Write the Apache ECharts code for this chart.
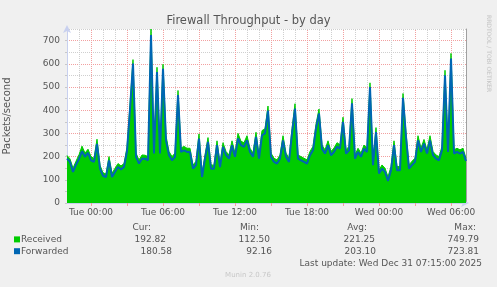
<!DOCTYPE html>
<html>
<head>
<meta charset="utf-8">
<script src="https://cdn.jsdelivr.net/npm/echarts@6/dist/echarts.min.js"></script>
<style>
html,body{margin:0;padding:0;background:#f0f0f0;}
#c{width:497px;height:287px;}
</style>
</head>
<body>
<div id="c"></div>
<script>
// Categories: 15-minute steps from Mon 22:00 to Wed 07:15
const dayNames = ['Mon', 'Tue', 'Wed'];
const categories = [];
function pad(n) { return (n < 10 ? '0' : '') + n; }
for (let i = 0; i < 134; i++) {
  const t = 22 * 60 + i * 15;
  const d = Math.floor(t / 1440), m = t % 1440;
  categories.push(dayNames[d] + ' ' + pad(Math.floor(m / 60)) + ':' + pad(m % 60));
}

const received = [
  205,190,150,180,208,245,215,232,200,192,
  275,163,130,125,200,128,150,170,160,170,
  240,420,618,215,185,207,206,200,750,230,
  585,230,598,290,222,200,215,485,237,244,
  236,236,163,180,298,128,207,282,164,163,
  268,171,260,222,207,268,215,300,266,260,
  290,236,215,305,207,312,320,418,215,193,
  186,207,290,215,193,320,428,207,200,193,
  186,222,244,340,405,250,229,268,222,237,
  260,251,370,229,244,450,207,236,215,250,
  236,518,180,325,142,164,150,113,157,268,
  157,157,472,303,164,180,193,290,236,274,
  229,290,222,207,200,244,572,236,645,229,
  236,229,236,193
];

const forwarded = [
  191,177,134,165,190,223,199,216,184,177,
  255,148,117,112,184,112,134,155,145,155,
  223,404,601,199,170,191,191,184,724,213,
  565,213,578,270,206,184,199,465,220,227,
  220,220,148,163,278,112,191,263,148,148,
  249,155,242,206,191,249,199,278,249,242,
  270,220,199,285,191,292,300,398,199,177,
  170,191,270,199,177,300,407,191,184,177,
  170,206,227,321,386,234,213,249,206,220,
  242,234,350,213,227,430,191,220,199,234,
  220,500,163,306,127,148,134,95,141,249,
  141,141,453,285,148,163,177,270,220,256,
  213,270,206,191,184,227,551,220,623,213,
  220,213,220,181
];

const seriesNames = ['Received', 'Forwarded'];
const seriesColors = ['#00cc00', '#0066b3'];
const statHeaders = ['Cur:', 'Min:', 'Avg:', 'Max:'];
const curVals = ['192.82', '180.58'];
const minVals = ['112.50', '92.16'];
const avgVals = ['221.25', '203.10'];
const maxVals = ['749.79', '723.81'];

const FONT = 'DejaVu Sans';
const TXT = '#555555';
const RED = '#f2a0a0';
const GRAY = '#cfcfcf';
const AXIS = '#c8d0ef';

// hourly vertical grid: [category index, major flag (every 3 hours)]
const hourGrid = [];
categories.forEach((c, i) => {
  if (i > 0 && /:00$/.test(c)) {
    const h = parseInt(c.slice(4, 6), 10);
    hourGrid.push([i, h % 3 === 0 ? 1 : 0]);
  }
});

const chart = echarts.init(document.getElementById('c'), null, {renderer: 'canvas'});

function txt(x, y, text, align, size, color) {
  return {type: 'text', x: x, y: y, silent: true,
    style: {text: text, fill: color || TXT, font: (size || 9) + 'px "' + FONT + '"',
      textAlign: align || 'left', textVerticalAlign: 'middle'}};
}

const graphics = [];
graphics.push(txt(248.5, 21.3, 'Firewall Throughput - by day', 'center', 11.5));
graphics.push({type: 'text', x: 489, y: 15, rotation: -Math.PI / 2, silent: true,
  style: {text: 'RRDTOOL / TOBI OETIKER', fill: '#c4c4c4', font: '6px "' + FONT + '"',
    textAlign: 'left', textVerticalAlign: 'middle'}});
const headerX = [151, 259, 367, 476];
statHeaders.forEach((h, i) => graphics.push(txt(headerX[i], 227.3, h, 'right')));
const rowY = [239.4, 251.2];
const colX = [[166, 270, 375, 479], [172, 272, 376, 479]];
seriesNames.forEach((n, r) => {
  graphics.push({type: 'rect', silent: true, shape: {x: 14, y: rowY[r] - 3, width: 6, height: 6},
    style: {fill: seriesColors[r]}});
  graphics.push(txt(21, rowY[r], n, 'left'));
  [curVals, minVals, avgVals, maxVals].forEach((arr, c) => {
    graphics.push(txt(colX[r][c], rowY[r], arr[r], 'right'));
  });
});
graphics.push(txt(482, 263.3, 'Last update: Wed Dec 31 07:15:00 2025', 'right'));
graphics.push(txt(248, 275, 'Munin 2.0.76', 'center', 7, '#c8c8c8'));

const option = {
  backgroundColor: '#f0f0f0',
  animation: false,
  textStyle: {fontFamily: FONT},
  grid: {left: 67, right: 31, top: 29, bottom: 84, show: true, containLabel: false,
    outerBoundsMode: 'none',
    backgroundColor: '#ffffff', borderWidth: 0},
  xAxis: {
    type: 'category',
    data: categories,
    boundaryGap: false,
    axisLine: {show: true, lineStyle: {color: AXIS, width: 1},
      symbol: ['none', 'arrow'], symbolSize: [6, 8], symbolOffset: [0, 3]},
    axisTick: {show: true, length: 3, lineStyle: {color: RED},
      interval: (i, v) => i > 0 && /:00$/.test(v) && (parseInt(v.slice(4, 6), 10) % 3 === 0)},
    axisLabel: {show: true, color: TXT, fontSize: 9, fontFamily: FONT, margin: 5,
      interval: (i, v) => /(00|06|12|18):00$/.test(v)},
    splitLine: {show: false}
  },
  yAxis: [{
    type: 'value',
    min: 0, max: 750, interval: 50,
    name: 'Packets/second',
    nameLocation: 'middle',
    nameGap: 55,
    nameTextStyle: {color: TXT, fontSize: 10, fontFamily: FONT},
    axisLine: {show: true, lineStyle: {color: AXIS, width: 1},
      symbol: ['none', 'arrow'], symbolSize: [6, 8], symbolOffset: [0, 4]},
    axisTick: {show: true, length: 2, lineStyle: {color: '#c8c8c8'}},
    axisLabel: {color: TXT, fontSize: 9, fontFamily: FONT, margin: 7,
      formatter: v => (v % 100 === 0 ? String(v) : '')},
    splitLine: {show: true, lineStyle: {color: [RED, GRAY], type: [1, 1], width: 1}}
  }, {
    type: 'value', position: 'right', min: 0, max: 750,
    axisLine: {show: true, lineStyle: {color: '#a0a0a0', width: 1}},
    axisTick: {show: false}, axisLabel: {show: false}, splitLine: {show: false}
  }],
  series: [{
    name: 'hourGrid', type: 'custom', data: hourGrid, z: 1, silent: true,
    encode: {x: 0, y: 1},
    renderItem: (params, api) => {
      const i = api.value(0);
      const p1 = api.coord([i, 0]);
      const p2 = api.coord([i, 750]);
      const x = Math.round(p1[0]) + 0.5;
      return {type: 'line', shape: {x1: x, y1: p1[1], x2: x, y2: p2[1]},
        style: {stroke: api.value(1) ? RED : GRAY, lineWidth: 1, lineDash: [1, 1]}};
    }
  }, {
    name: 'Received', type: 'line', data: received, symbol: 'none',
    lineStyle: {width: 1, color: '#00cc00'},
    areaStyle: {color: '#00cc00', opacity: 1},
    itemStyle: {color: '#00cc00'}, z: 2
  }, {
    name: 'Forwarded', type: 'line', data: forwarded, symbol: 'none',
    lineStyle: {width: 2, color: '#0066b3'},
    itemStyle: {color: '#0066b3'}, z: 3
  }],
  graphic: graphics
};
chart.setOption(option);
</script>
</body>
</html>
